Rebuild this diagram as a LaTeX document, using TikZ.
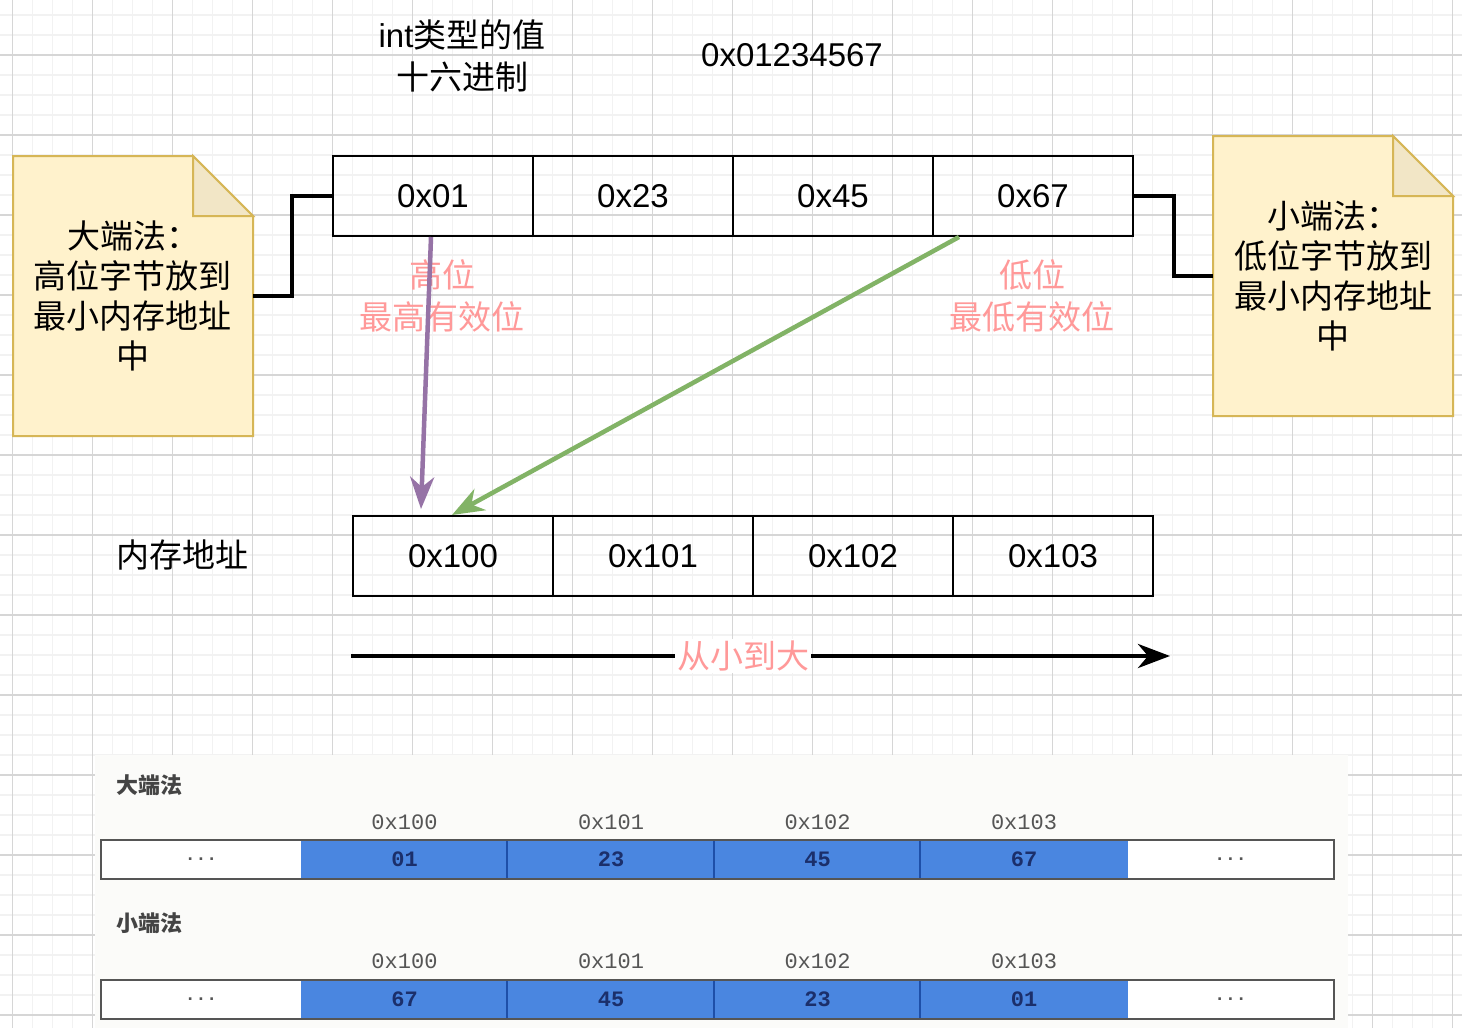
\documentclass[tikz,border=0pt]{standalone}
\usepackage{fontspec}
\setmainfont{Liberation Sans}
\newfontfamily\cjk{Noto Sans CJK SC}
\newfontfamily\monof{Liberation Mono}
\usetikzlibrary{arrows.meta,calc}
\definecolor{gridminor}{HTML}{F2F2F2}
\definecolor{gridmajor}{HTML}{D6D6D6}
\definecolor{notefill}{HTML}{FFF2CC}
\definecolor{notedraw}{HTML}{D6B656}
\definecolor{notefold}{HTML}{F2E6C6}
\definecolor{pinktxt}{HTML}{FF9999}
\definecolor{purplearr}{HTML}{9673A6}
\definecolor{greenarr}{HTML}{82B366}
\definecolor{shotbg}{HTML}{FBFBF9}
\definecolor{cellblue}{HTML}{4A86E0}
\definecolor{celldiv}{HTML}{1E4FA8}
\definecolor{celltxt}{HTML}{1B2F6B}
\definecolor{shotgray}{HTML}{555555}
\begin{document}
\begin{tikzpicture}[x=1pt,y=-1pt,
  cellbox/.style={draw=black, line width=2pt, minimum width=200pt, minimum height=80pt, inner sep=0pt, font=\fontsize{33}{40}\selectfont},
  plain/.style={inner sep=0pt, align=center, font=\fontsize{33}{42}\selectfont},
  pinklabel/.style={plain, text=pinktxt, font=\cjk\fontsize{33}{42}\selectfont},
  notebox/.style={minimum width=240pt, minimum height=280pt, inner sep=0pt, align=center, font=\cjk\fontsize{33}{40}\selectfont},
  notepath/.style={fill=notefill, draw=notedraw, line width=2pt, line join=miter},
  foldpath/.style={fill=notefold, draw=notedraw, line width=2pt},
  wire/.style={draw=black, line width=4.5pt, line join=miter},
  bigarrow/.style={line width=4.5pt, -{Stealth[length=32pt,width=24pt,inset=10pt]}},
  shotcell/.style={minimum width=207pt, minimum height=39pt, inner sep=0pt},
  shotaddr/.style={inner sep=0pt, text=shotgray, font=\monof\fontsize{22}{24}\selectfont},
  shottitle/.style={inner sep=0pt, text=shotgray!80!black, font=\cjk\bfseries\fontsize{22}{24}\selectfont},
  celltext/.style={text=celltxt, font=\monof\bfseries\fontsize{22}{24}\selectfont},
  dotstext/.style={text=shotgray, font=\monof\bfseries\fontsize{18}{20}\selectfont}
]
\useasboundingbox (0,0) rectangle (1462,1028);
\fill[white] (0,0) rectangle (1462,1028);
% grid
\foreach \i in {0,...,72} \draw[gridminor, line width=1.2pt] ({12.7+20*\i},0) -- ({12.7+20*\i},1028);
\foreach \j in {0,...,50} \draw[gridminor, line width=1.2pt] (0,{15+20*\j}) -- (1462,{15+20*\j});
\foreach \i in {0,...,18} \draw[gridmajor, line width=1.2pt] ({12.7+80*\i},0) -- ({12.7+80*\i},1028);
\foreach \j in {0,...,12} \draw[gridmajor, line width=1.2pt] (0,{55+80*\j}) -- (1462,{55+80*\j});

% title texts
\node[plain] (title) at (462,56) {int{\cjk 类型的值}\\{\cjk 十六进制}};
\node[plain] (value) at (792,55) {0x01234567};

% value bytes
\node[cellbox] (b1) at (433,196) {0x01};
\node[cellbox] (b2) at (633,196) {0x23};
\node[cellbox] (b3) at (833,196) {0x45};
\node[cellbox] (b4) at (1033,196) {0x67};

% memory cells
\node[cellbox] (m1) at (453,556) {0x100};
\node[cellbox] (m2) at (653,556) {0x101};
\node[cellbox] (m3) at (853,556) {0x102};
\node[cellbox] (m4) at (1053,556) {0x103};
\node[plain, font=\cjk\fontsize{33}{40}\selectfont] (memlbl) at (182,555) {内存地址};

% notes
\path[notepath] (13,156) -- (193,156) -- (253,216) -- (253,436) -- (13,436) -- cycle;
\path[foldpath] (193,156) -- (193,216) -- (253,216) -- cycle;
\node[notebox] (nl) at (133,296) {大端法：\\高位字节放到\\最小内存地址\\中};
\path[notepath] (1213,136) -- (1393,136) -- (1453,196) -- (1453,416) -- (1213,416) -- cycle;
\path[foldpath] (1393,136) -- (1393,196) -- (1453,196) -- cycle;
\node[notebox] (nr) at (1333,276) {小端法：\\低位字节放到\\最小内存地址\\中};

% connectors to notes
\draw[wire] (b1.west) -- ++(-40,0) |- (nl.east);
\draw[wire] (b4.east) -- ++(40,0) |- (nr.west);

% pink labels
\node[pinklabel] (hi) at (442,296) {高位\\最高有效位};
\node[pinklabel] (lo) at (1032,296) {低位\\最低有效位};

% arrows
\draw[bigarrow, draw=purplearr, fill=purplearr] ($(b1.south)+(-2,0)$) -- ($(m1.north)+(-32,-6)$);
\draw[bigarrow, draw=greenarr, fill=greenarr] ($(b4.south west)+(27,0)$) -- ($(m1.north)+(-1,0)$);

% order arrow
\coordinate (os) at (351,656);
\coordinate (oe) at (1170,656);
\draw[bigarrow, draw=black, fill=black] (os) -- (oe) node[pos=0.479, fill=white, inner sep=2pt, text=pinktxt, font=\cjk\fontsize{33}{40}\selectfont] (order) {从小到大};

% screenshot
\fill[shotbg] (95,755) rectangle (1348,1028);
\node[shottitle, anchor=west] (bigt) at (116,785) {大端法};
\node[shottitle, anchor=west] (smallt) at (116,923) {小端法};
\foreach \r/\y/\ya/\vals in {1/859.5/822/{01,23,45,67}, 2/999.5/961/{67,45,23,01}} {
  \node[shotcell, minimum width=200pt, fill=white] (r\r l) at (201,\y) {};
  \node[dotstext] at (r\r l) {...};
  \node[shotcell, minimum width=207pt, fill=white] (r\r r) at (1230.5,\y) {};
  \node[dotstext] at (r\r r) {...};
  \foreach \v [count=\k] in \vals {
    \node[shotcell, fill=cellblue] (r\r c\k) at ({404.5+206.5*(\k-1)},\y) {};
    \node[celltext] at (r\r c\k) {\v};
    \node[shotaddr] at ({404.5+206.5*(\k-1)},\ya) {0x10\the\numexpr\k-1\relax};
  }
  \foreach \k in {2,3,4} \draw[celldiv, line width=2pt] (r\r c\k.north west) -- (r\r c\k.south west);
  \draw[shotgray, line width=2.5pt] (r\r l.north west) rectangle (r\r r.south east);
}
\end{tikzpicture}
\end{document}
